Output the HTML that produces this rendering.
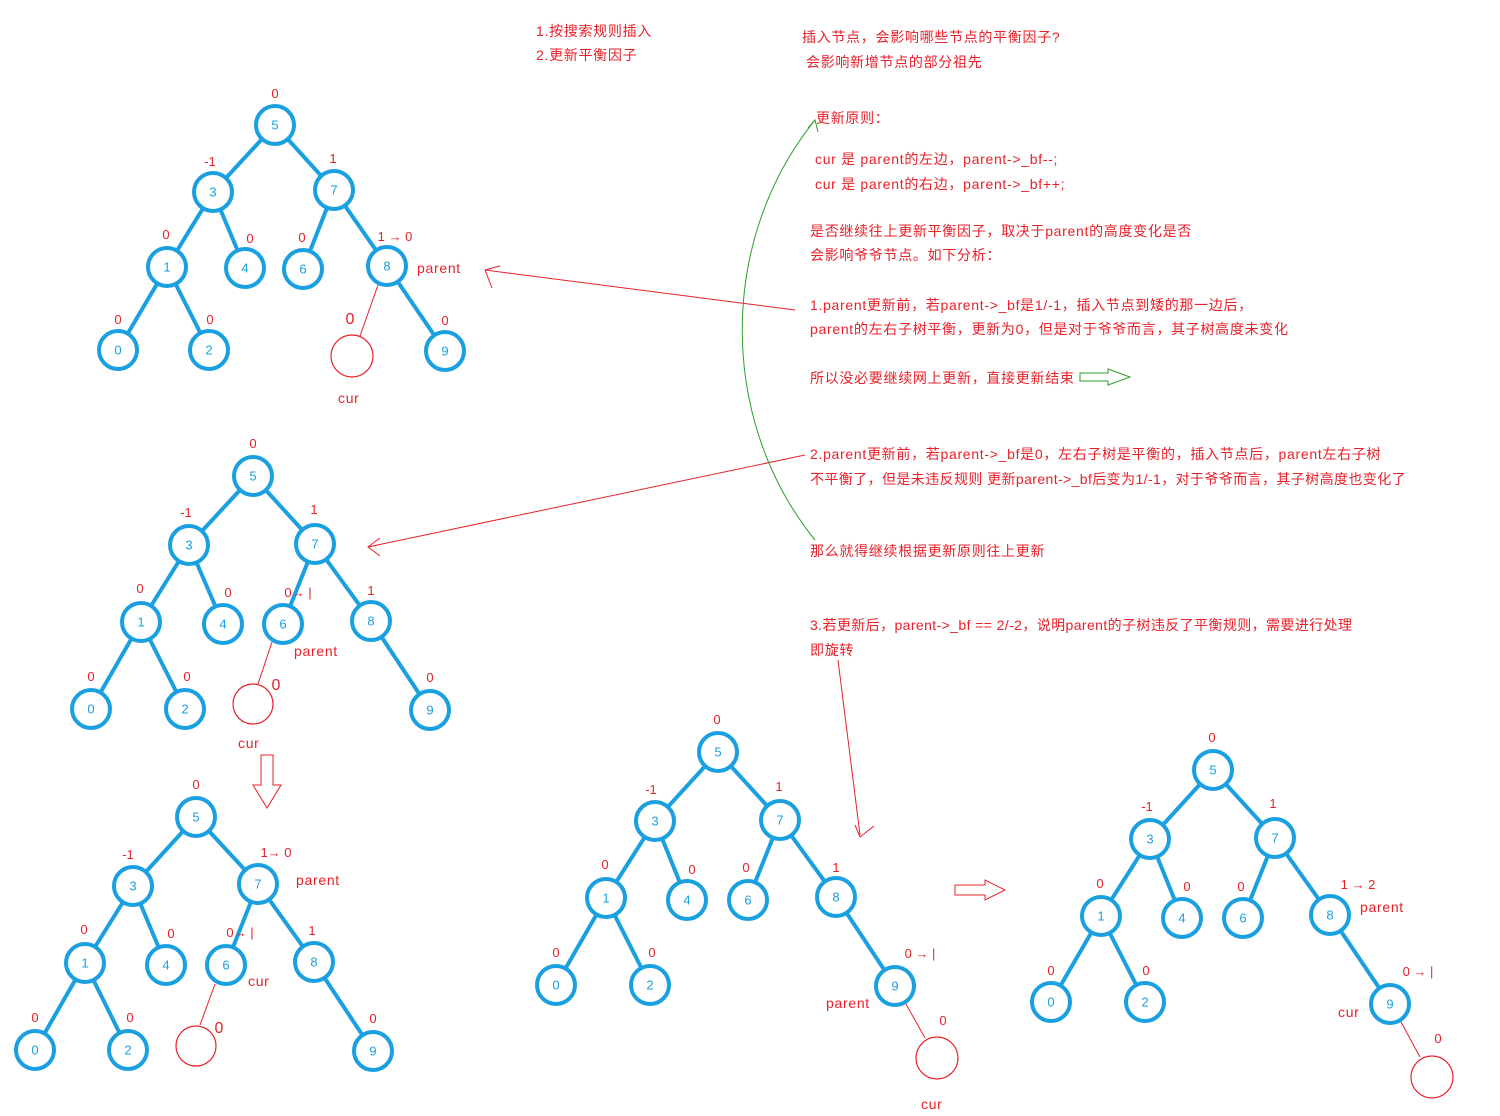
<!DOCTYPE html>
<html><head><meta charset="utf-8"><style>
html,body{margin:0;padding:0;background:#fff;width:1500px;height:1116px;overflow:hidden}
svg{display:block}
.e{stroke:#1aa0e0;stroke-width:4;stroke-linecap:round}
.n{fill:#fff;stroke:#1aa0e0;stroke-width:4}
.t{fill:#1aa0e0;font:13px "Liberation Sans",sans-serif;text-anchor:middle;dominant-baseline:central}
.r{fill:#e8202a;font:14px "Liberation Sans","Noto Sans CJK SC",sans-serif;letter-spacing:0.7px}
.b{fill:#e8202a;font:13px "Liberation Sans",sans-serif;text-anchor:middle}
.rl{stroke:#e8202a;stroke-width:1;fill:none}
.cur{fill:none;stroke:#e8202a;stroke-width:1.2}
</style></head><body>
<svg width="1500" height="1116" viewBox="0 0 1500 1116">
<!-- Tree 1 -->
<g>
<line class="e" x1="275" y1="125" x2="213" y2="192"/><line class="e" x1="275" y1="125" x2="334" y2="190"/>
<line class="e" x1="213" y1="192" x2="167" y2="267"/><line class="e" x1="213" y1="192" x2="245" y2="268"/>
<line class="e" x1="334" y1="190" x2="303" y2="269"/><line class="e" x1="334" y1="190" x2="387" y2="266"/>
<line class="e" x1="167" y1="267" x2="118" y2="350"/><line class="e" x1="167" y1="267" x2="209" y2="350"/>
<line class="e" x1="387" y1="266" x2="445" y2="351"/>
<line class="rl" x1="378" y1="285" x2="360" y2="336"/>
<circle class="cur" cx="352" cy="356" r="21"/>
<circle class="n" cx="275" cy="125" r="19"/><text class="t" x="275" y="125">5</text>
<circle class="n" cx="213" cy="192" r="19"/><text class="t" x="213" y="192">3</text>
<circle class="n" cx="334" cy="190" r="19"/><text class="t" x="334" y="190">7</text>
<circle class="n" cx="167" cy="267" r="19"/><text class="t" x="167" y="267">1</text>
<circle class="n" cx="245" cy="268" r="19"/><text class="t" x="245" y="268">4</text>
<circle class="n" cx="303" cy="269" r="19"/><text class="t" x="303" y="269">6</text>
<circle class="n" cx="387" cy="266" r="19"/><text class="t" x="387" y="266">8</text>
<circle class="n" cx="118" cy="350" r="19"/><text class="t" x="118" y="350">0</text>
<circle class="n" cx="209" cy="350" r="19"/><text class="t" x="209" y="350">2</text>
<circle class="n" cx="445" cy="351" r="19"/><text class="t" x="445" y="351">9</text>
<text class="b" x="275" y="98">0</text><text class="b" x="210" y="166">-1</text><text class="b" x="333" y="163">1</text>
<text class="b" x="166" y="239">0</text><text class="b" x="250" y="243">0</text><text class="b" x="302" y="242">0</text>
<text class="b" x="395" y="241">1 →  0</text><text class="b" x="118" y="324">0</text><text class="b" x="210" y="324">0</text>
<text class="b" x="445" y="325">0</text><text class="b" x="350" y="324" style="font-size:16px">0</text>
<text class="r" x="417" y="273">parent</text><text class="r" x="338" y="403">cur</text>
</g>
<!-- Tree 2 -->
<g>
<line class="e" x1="253" y1="476" x2="189" y2="545"/><line class="e" x1="253" y1="476" x2="315" y2="544"/>
<line class="e" x1="189" y1="545" x2="141" y2="622"/><line class="e" x1="189" y1="545" x2="223" y2="624"/>
<line class="e" x1="315" y1="544" x2="283" y2="624"/><line class="e" x1="315" y1="544" x2="371" y2="621"/>
<line class="e" x1="141" y1="622" x2="91" y2="709"/><line class="e" x1="141" y1="622" x2="185" y2="709"/>
<line class="e" x1="371" y1="621" x2="430" y2="710"/>
<line class="rl" x1="272" y1="642" x2="258" y2="684"/>
<circle class="cur" cx="253" cy="704" r="20"/>
<circle class="n" cx="253" cy="476" r="19"/><text class="t" x="253" y="476">5</text>
<circle class="n" cx="189" cy="545" r="19"/><text class="t" x="189" y="545">3</text>
<circle class="n" cx="315" cy="544" r="19"/><text class="t" x="315" y="544">7</text>
<circle class="n" cx="141" cy="622" r="19"/><text class="t" x="141" y="622">1</text>
<circle class="n" cx="223" cy="624" r="19"/><text class="t" x="223" y="624">4</text>
<circle class="n" cx="283" cy="624" r="19"/><text class="t" x="283" y="624">6</text>
<circle class="n" cx="371" cy="621" r="19"/><text class="t" x="371" y="621">8</text>
<circle class="n" cx="91" cy="709" r="19"/><text class="t" x="91" y="709">0</text>
<circle class="n" cx="185" cy="709" r="19"/><text class="t" x="185" y="709">2</text>
<circle class="n" cx="430" cy="710" r="19"/><text class="t" x="430" y="710">9</text>
<text class="b" x="253" y="448">0</text><text class="b" x="186" y="517">-1</text><text class="b" x="314" y="514">1</text>
<text class="b" x="140" y="593">0</text><text class="b" x="228" y="597">0</text><text class="b" x="298" y="597">0→  |</text>
<text class="b" x="371" y="595">1</text><text class="b" x="91" y="681">0</text><text class="b" x="187" y="681">0</text>
<text class="b" x="430" y="682">0</text><text class="b" x="276" y="690" style="font-size:16px">0</text>
<text class="r" x="294" y="656">parent</text><text class="r" x="238" y="748">cur</text>
</g>
<path d="M261 755 H273 V785 H281 L267 808 L253 785 H261 Z" fill="none" stroke="#e8202a" stroke-width="1"/>
<!-- Tree 3 -->
<g>
<line class="e" x1="196" y1="817" x2="133" y2="886"/><line class="e" x1="196" y1="817" x2="258" y2="884"/>
<line class="e" x1="133" y1="886" x2="85" y2="963"/><line class="e" x1="133" y1="886" x2="166" y2="965"/>
<line class="e" x1="258" y1="884" x2="226" y2="965"/><line class="e" x1="258" y1="884" x2="314" y2="962"/>
<line class="e" x1="85" y1="963" x2="35" y2="1050"/><line class="e" x1="85" y1="963" x2="128" y2="1050"/>
<line class="e" x1="314" y1="962" x2="373" y2="1051"/>
<line class="rl" x1="215" y1="984" x2="200" y2="1025"/>
<circle class="cur" cx="196" cy="1046" r="20"/>
<circle class="n" cx="196" cy="817" r="19"/><text class="t" x="196" y="817">5</text>
<circle class="n" cx="133" cy="886" r="19"/><text class="t" x="133" y="886">3</text>
<circle class="n" cx="258" cy="884" r="19"/><text class="t" x="258" y="884">7</text>
<circle class="n" cx="85" cy="963" r="19"/><text class="t" x="85" y="963">1</text>
<circle class="n" cx="166" cy="965" r="19"/><text class="t" x="166" y="965">4</text>
<circle class="n" cx="226" cy="965" r="19"/><text class="t" x="226" y="965">6</text>
<circle class="n" cx="314" cy="962" r="19"/><text class="t" x="314" y="962">8</text>
<circle class="n" cx="35" cy="1050" r="19"/><text class="t" x="35" y="1050">0</text>
<circle class="n" cx="128" cy="1050" r="19"/><text class="t" x="128" y="1050">2</text>
<circle class="n" cx="373" cy="1051" r="19"/><text class="t" x="373" y="1051">9</text>
<text class="b" x="196" y="789">0</text><text class="b" x="128" y="859">-1</text><text class="b" x="276" y="857">1→  0</text>
<text class="b" x="240" y="937">0→  |</text><text class="b" x="84" y="934">0</text><text class="b" x="171" y="938">0</text>
<text class="b" x="312" y="935">1</text><text class="b" x="35" y="1022">0</text><text class="b" x="130" y="1022">0</text>
<text class="b" x="373" y="1023">0</text><text class="b" x="219" y="1033" style="font-size:16px">0</text>
<text class="r" x="296" y="885">parent</text><text class="r" x="248" y="986">cur</text>
</g>
<!-- Tree 4 -->
<g>
<line class="e" x1="718" y1="752" x2="655" y2="821"/><line class="e" x1="718" y1="752" x2="780" y2="820"/>
<line class="e" x1="655" y1="821" x2="606" y2="898"/><line class="e" x1="655" y1="821" x2="687" y2="900"/>
<line class="e" x1="780" y1="820" x2="748" y2="900"/><line class="e" x1="780" y1="820" x2="836" y2="897"/>
<line class="e" x1="606" y1="898" x2="556" y2="985"/><line class="e" x1="606" y1="898" x2="650" y2="985"/>
<line class="e" x1="836" y1="897" x2="895" y2="986"/>
<line class="rl" x1="906" y1="1004" x2="925" y2="1038"/>
<circle class="cur" cx="937" cy="1058" r="21"/>
<circle class="n" cx="718" cy="752" r="19"/><text class="t" x="718" y="752">5</text>
<circle class="n" cx="655" cy="821" r="19"/><text class="t" x="655" y="821">3</text>
<circle class="n" cx="780" cy="820" r="19"/><text class="t" x="780" y="820">7</text>
<circle class="n" cx="606" cy="898" r="19"/><text class="t" x="606" y="898">1</text>
<circle class="n" cx="687" cy="900" r="19"/><text class="t" x="687" y="900">4</text>
<circle class="n" cx="748" cy="900" r="19"/><text class="t" x="748" y="900">6</text>
<circle class="n" cx="836" cy="897" r="19"/><text class="t" x="836" y="897">8</text>
<circle class="n" cx="556" cy="985" r="19"/><text class="t" x="556" y="985">0</text>
<circle class="n" cx="650" cy="985" r="19"/><text class="t" x="650" y="985">2</text>
<circle class="n" cx="895" cy="986" r="19"/><text class="t" x="895" y="986">9</text>
<text class="b" x="717" y="724">0</text><text class="b" x="651" y="794">-1</text><text class="b" x="779" y="791">1</text>
<text class="b" x="605" y="869">0</text><text class="b" x="692" y="874">0</text><text class="b" x="746" y="872">0</text>
<text class="b" x="836" y="872">1</text><text class="b" x="556" y="957">0</text><text class="b" x="652" y="957">0</text>
<text class="b" x="920" y="958">0 →  |</text><text class="b" x="943" y="1025">0</text>
<text class="r" x="826" y="1008">parent</text><text class="r" x="921" y="1109">cur</text>
</g>
<path d="M955 885 H985 V880 L1005 890 L985 900 V895 H955 Z" fill="none" stroke="#e8202a" stroke-width="1"/>
<!-- Tree 5 -->
<g>
<line class="e" x1="1213" y1="770" x2="1150" y2="839"/><line class="e" x1="1213" y1="770" x2="1275" y2="838"/>
<line class="e" x1="1150" y1="839" x2="1101" y2="916"/><line class="e" x1="1150" y1="839" x2="1182" y2="918"/>
<line class="e" x1="1275" y1="838" x2="1243" y2="918"/><line class="e" x1="1275" y1="838" x2="1330" y2="915"/>
<line class="e" x1="1101" y1="916" x2="1051" y2="1002"/><line class="e" x1="1101" y1="916" x2="1145" y2="1002"/>
<line class="e" x1="1330" y1="915" x2="1390" y2="1004"/>
<line class="rl" x1="1401" y1="1022" x2="1420" y2="1057"/>
<circle class="cur" cx="1432" cy="1077" r="21"/>
<circle class="n" cx="1213" cy="770" r="19"/><text class="t" x="1213" y="770">5</text>
<circle class="n" cx="1150" cy="839" r="19"/><text class="t" x="1150" y="839">3</text>
<circle class="n" cx="1275" cy="838" r="19"/><text class="t" x="1275" y="838">7</text>
<circle class="n" cx="1101" cy="916" r="19"/><text class="t" x="1101" y="916">1</text>
<circle class="n" cx="1182" cy="918" r="19"/><text class="t" x="1182" y="918">4</text>
<circle class="n" cx="1243" cy="918" r="19"/><text class="t" x="1243" y="918">6</text>
<circle class="n" cx="1330" cy="915" r="19"/><text class="t" x="1330" y="915">8</text>
<circle class="n" cx="1051" cy="1002" r="19"/><text class="t" x="1051" y="1002">0</text>
<circle class="n" cx="1145" cy="1002" r="19"/><text class="t" x="1145" y="1002">2</text>
<circle class="n" cx="1390" cy="1004" r="19"/><text class="t" x="1390" y="1004">9</text>
<text class="b" x="1212" y="742">0</text><text class="b" x="1147" y="811">-1</text><text class="b" x="1273" y="808">1</text>
<text class="b" x="1100" y="888">0</text><text class="b" x="1187" y="891">0</text><text class="b" x="1241" y="891">0</text>
<text class="b" x="1358" y="889">1 →  2</text><text class="b" x="1051" y="975">0</text><text class="b" x="1146" y="975">0</text>
<text class="b" x="1418" y="976">0 →  |</text><text class="b" x="1438" y="1043">0</text>
<text class="r" x="1360" y="912">parent</text><text class="r" x="1338" y="1017">cur</text>
</g>
<!-- connectors -->
<line class="rl" x1="795" y1="310" x2="485" y2="270"/>
<path class="rl" d="M500 266 L485 270 L492 288"/>
<line class="rl" x1="805" y1="455" x2="368" y2="547"/>
<path class="rl" d="M380 538 L368 547 L380 556"/>
<line class="rl" x1="838" y1="660" x2="860" y2="835"/>
<path class="rl" d="M855 825 L860 837 L874 826"/>
<path d="M815 540 C718 420 718 240 815 120" fill="none" stroke="#2aa02a" stroke-width="1"/>
<path d="M808 128 L815 120 L818 132" fill="none" stroke="#2aa02a" stroke-width="1"/>
<path d="M1080 373 H1108 V369 L1130 377 L1108 385 V381 H1080 Z" fill="none" stroke="#2aa02a" stroke-width="1"/>
<!-- text -->
<text class="r" x="536" y="36">1.按搜索规则插入</text>
<text class="r" x="536" y="60">2.更新平衡因子</text>
<text class="r" x="802" y="42">插入节点，会影响哪些节点的平衡因子?</text>
<text class="r" x="806" y="67">会影响新增节点的部分祖先</text>
<text class="r" x="816" y="123">更新原则：</text>
<text class="r" x="815" y="164">cur 是 parent的左边，parent-&gt;_bf--;</text>
<text class="r" x="815" y="189">cur 是 parent的右边，parent-&gt;_bf++;</text>
<text class="r" x="810" y="236">是否继续往上更新平衡因子，取决于parent的高度变化是否</text>
<text class="r" x="810" y="260">会影响爷爷节点。如下分析：</text>
<text class="r" x="810" y="310">1.parent更新前，若parent-&gt;_bf是1/-1，插入节点到矮的那一边后，</text>
<text class="r" x="810" y="334">parent的左右子树平衡，更新为0，但是对于爷爷而言，其子树高度未变化</text>
<text class="r" x="810" y="383">所以没必要继续网上更新，直接更新结束</text>
<text class="r" x="810" y="459">2.parent更新前，若parent-&gt;_bf是0，左右子树是平衡的，插入节点后，parent左右子树</text>
<text class="r" x="810" y="484" style="letter-spacing:0.4px">不平衡了，但是未违反规则 更新parent-&gt;_bf后变为1/-1，对于爷爷而言，其子树高度也变化了</text>
<text class="r" x="810" y="556">那么就得继续根据更新原则往上更新</text>
<text class="r" x="810" y="630" style="letter-spacing:0.4px">3.若更新后，parent-&gt;_bf == 2/-2，说明parent的子树违反了平衡规则，需要进行处理</text>
<text class="r" x="810" y="655">即旋转</text>
</svg>
</body></html>
